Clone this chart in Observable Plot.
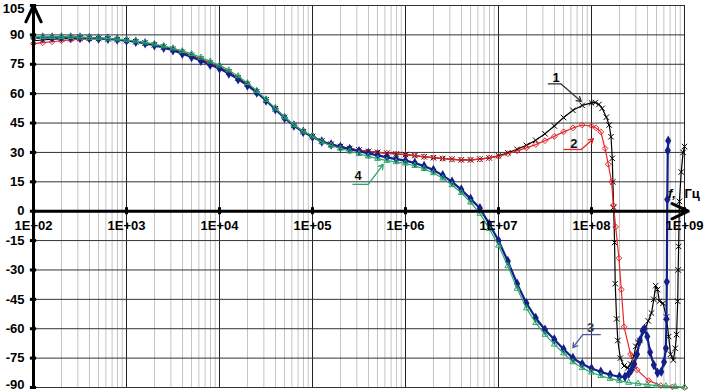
<!DOCTYPE html>
<html><head><meta charset="utf-8">
<script src="https://cdn.jsdelivr.net/npm/d3@7"></script>
<script src="https://cdn.jsdelivr.net/npm/@observablehq/plot@0.6"></script>
<style>body{margin:0;background:#fff}</style>
</head><body><div id="chart"></div>
<script>
// log10 of frequency (Hz) for the common sampling of the curves
const logF = [2.0,2.1,2.2,2.3,2.4,2.5,2.6,2.7,2.8,2.9,3.0,3.1,3.2,3.3,3.4,3.5,3.6,3.7,3.8,3.9,4.0,4.1,4.2,4.3,4.4,4.5,4.6,4.7,4.8,4.9,5.0,5.1,5.2,5.3,5.4,5.5,5.6,5.7,5.8,5.9,6.0,6.1,6.2,6.3,6.4,6.5,6.6,6.7,6.8,6.9,7.0,7.1,7.2,7.3,7.4,7.5,7.6,7.7,7.8,7.9,8.0];

// phase (degrees)
const s1 = [87,87.4,87.8,88,88.2,88.3,88.3,88.2,88,87.6,87.1,
  86.5,85.8,84.9,83.8,82.6,81.1,79.5,77.6,75.6,73.5,
  71,68,64.8,61,56.8,52.3,47.8,43.8,40.6,38.1,
  35.8,34.2,33,32,31.2,30.5,30,29.6,29.2,28.9,
  28.4,27.8,27.3,26.9,26.5,26.2,26.2,26.6,27.2,28.3,
  29.8,31.6,33.6,36.2,39.5,43.5,47.8,51.5,54,55.3];
const s1TailLog = [8.04,8.08,8.114,8.16,8.19,8.21,8.223,8.23,8.238,8.248,8.255,8.27,8.283,8.31,8.35,8.39,8.42,8.455,8.477,8.5,8.52,8.57,8.61,8.645,8.67,8.69,8.71,8.73,8.77,8.805,8.83,8.85,8.88,8.9,8.915,8.927,8.932,8.937,8.945,8.965,8.985,9.0];
const s1TailVal = [55.5,54.5,52.5,48,44,38,27,15,2,-16,-37,-55,-66,-75,-79,-80,-78,-74,-69,-67,-66,-61,-56,-52,-45,-38,-40,-46,-47,-54,-64,-73,-76,-70,-63,-46,-30,-18,5,20,30,33];

const s2 = [85.5,86,86.5,87,87.4,87.7,87.9,88,87.9,87.6,87.1,
  86.5,85.8,84.9,83.8,82.6,81.1,79.5,77.6,75.6,73.5,
  71,68,64.8,61,56.8,52.3,47.8,43.8,40.6,38.1,
  35.8,34.2,33,32,31.2,30.5,30,29.6,29.2,28.9,
  28.4,27.8,27.3,26.9,26.5,26.2,26.2,26.6,27.2,28,
  29.3,30.8,32.3,34,36,38.2,40.5,42.5,44,43.5];
const s2TailLog = [8.05,8.1,8.146,8.18,8.216,8.235,8.26,8.295,8.32,8.35,8.42,8.49,8.615,8.745,8.87,9.0];
const s2TailVal = [42.5,40.5,32,24,15,3,-8,-24,-40,-59,-73,-81,-86.5,-89,-89.7,-90];

const s3 = [88.5,88.6,88.7,88.7,88.7,88.6,88.4,88.2,88,87.6,87.1,
  86.5,85.7,84.7,83.5,82.2,80.4,78.7,76.8,74.8,72.8,
  70.3,67.4,64.2,60.6,56.5,52,47.6,43.7,40.5,38,
  35.6,34,32.8,31.7,30.6,29.5,28.5,27.5,26.6,25.8,
  24.6,23,21,18.3,15,11,6.3,1.5,-6.5,-15,
  -25.5,-37,-47,-54.5,-60.5,-65.5,-70.5,-75,-78,-80.3];
const s3TailLog = [8.1,8.2,8.3,8.36,8.4,8.43,8.46,8.49,8.52,8.55,8.57,8.6,8.63,8.67,8.71,8.75,8.78,8.8,8.806,8.81,8.815,8.82,8.825];
const s3TailVal = [-82,-83.5,-84.5,-84.5,-83,-81,-78,-73,-66,-61,-60,-64,-72,-78.5,-82.5,-82,-77,-70,-55,-36,6,31,36];

const s4 = [89,89,89,89,89,88.8,88.6,88.4,88.2,87.8,87.4,
  86.9,86.2,85.3,84.3,83.2,81.8,80.3,78.5,76.5,74.5,
  72,69,65.5,61.5,57,52.5,48,44,40.8,38.3,
  35.3,33.5,32,30.6,29.3,28,26.8,25.8,25.1,24.4,
  23.2,21.6,19.5,16.8,13.4,9.4,4.5,-1.2,-9,-17.5,
  -28,-39.5,-49.5,-57,-63,-68,-72.5,-77,-80,-82.3];
const s4TailLog = [8.1,8.2,8.3,8.4,8.5,8.6,8.7,8.8,8.9,9.0];
const s4TailVal = [-84,-85.5,-86.5,-87.5,-88,-88.5,-89,-89.3,-89.6,-89.8];

// axes
const xTicks = [1e2,1e3,1e4,1e5,1e6,1e7,1e8,1e9];
const xTickLabels = ["1E+02","1E+03","1E+04","1E+05","1E+06","1E+07","1E+08","1E+09"];
const minorMult = [2,3,4,5,6,7,8,9];
const yTicks = [-90,-75,-60,-45,-30,-15,0,15,30,45,60,75,90,105];

// annotations (log10 f, degrees)
const annoLabels = [
  {t:"1", e:7.62, v:68,   c:"#000"},
  {t:"2", e:7.81, v:34.6, c:"#111"},
  {t:"3", e:7.99, v:-59.5, c:"#3a3f55"},
  {t:"4", e:5.49, v:17.8, c:"#111"}
];
const annoUnder = [
  {e1:7.53, v1:65, e2:7.67, v2:65, c:"#333"},
  {e1:7.70, v1:31.5, e2:7.89, v2:31.5, c:"#e8262a"},
  {e1:7.906, v1:-63, e2:8.10, v2:-63, c:"#4a5a9a"},
  {e1:5.43, v1:13.7, e2:5.60, v2:13.7, c:"#2aa86a"}
];
const annoArrows = [
  {e1:7.67, v1:65, e2:7.89, v2:56, c:"#333"},
  {e1:7.89, v1:31.5, e2:8.02, v2:37, c:"#e8262a"},
  {e1:7.906, v1:-63, e2:7.80, v2:-69.7, c:"#4a5a9a"},
  {e1:5.60, v1:13.7, e2:5.76, v2:23.9, c:"#2aa86a"}
];

const mk = (body, tl, tv) => [
  ...logF.map((e, i) => ({f: 10 ** e, v: body[i]})),
  ...tl.map((e, i) => ({f: 10 ** e, v: tv[i]}))
];
const d1 = mk(s1, s1TailLog, s1TailVal);
const d2 = mk(s2, s2TailLog, s2TailVal);
const d3s = mk(s3, s3TailLog, s3TailVal);
const d4 = mk(s4, s4TailLog, s4TailVal);

const minorTicks = [];
for (const t of xTicks.slice(0, -1)) for (const m of minorMult) minorTicks.push(t * m);

const yMid = yTicks.filter(d => d !== 105 && d !== -90);
const C1 = "#000000", C2 = "#e8262a", C3 = "#14208a", C4 = "#2aa86a";
const font = {fontWeight: "bold", fontSize: 13, fill: "#000"};
const yl = {x: () => 1e2, y: d => d, text: d => String(d), dx: -9, textAnchor: "end", ...font};

const chart = Plot.plot({
  width: 704, height: 391,
  marginLeft: 33, marginRight: 20, marginTop: 5, marginBottom: 4,
  x: {type: "log", domain: [1e2, 1e9], axis: null},
  y: {domain: [-90, 105], axis: null},
  style: {background: "#fff", fontFamily: "'Liberation Sans', Arial, sans-serif", overflow: "visible"},
  marks: [
    Plot.ruleX(minorTicks, {stroke: "#c4c4c4", strokeWidth: 1}),
    Plot.ruleX(xTicks, {stroke: "#222", strokeWidth: 1}),
    Plot.ruleY(yTicks, {stroke: "#333", strokeWidth: 1}),

    Plot.line(d1, {x: "f", y: "v", stroke: C1, strokeWidth: 1.2}),
    Plot.dot(d1, {x: "f", y: "v", symbol: "times", r: 2.6, stroke: C1, strokeWidth: 1}),
    Plot.line(d2, {x: "f", y: "v", stroke: C2, strokeWidth: 1.2}),
    Plot.dot(d2, {x: "f", y: "v", symbol: "diamond2", r: 2.6, stroke: C2, strokeWidth: 1}),
    Plot.line(d3s, {x: "f", y: "v", stroke: C3, strokeWidth: 2.2}),
    Plot.dot(d3s, {x: "f", y: "v", symbol: "diamond", r: 3.2, fill: C3}),
    Plot.line(d4, {x: "f", y: "v", stroke: C4, strokeWidth: 1.2}),
    Plot.dot(d4, {x: "f", y: "v", symbol: "triangle2", r: 2.8, stroke: C4, strokeWidth: 1}),

    // axes with arrows
    Plot.arrow([{x1: 1e2, y1: -90, x2: 1e2, y2: 105}, {x1: 1e2, y1: 0, x2: 1.1e9, y2: 0}],
      {x1: "x1", y1: "y1", x2: "x2", y2: "y2", stroke: "#000", strokeWidth: 3, headLength: 9, headAngle: 50}),
    Plot.ruleX(xTicks, {y1: -1.8, y2: 1.8, stroke: "#000", strokeWidth: 3}),
    Plot.ruleY(yTicks, {x1: 1e2 / 1.08, x2: 1e2 * 1.08, stroke: "#000", strokeWidth: 3}),

    Plot.text(xTicks, {x: d => d, y: () => 0, text: (d, i) => xTickLabels[i], dy: 15, ...font}),
    Plot.text(yMid, yl),
    Plot.text([105], {...yl, lineAnchor: "top", dy: -2}),
    Plot.text([-90], {...yl, lineAnchor: "bottom", dy: 1}),
    Plot.text([{f: 10 ** 8.865, v: 9}], {x: "f", y: "v", text: () => "f,", fontStyle: "italic", ...font}),
    Plot.text([{f: 10 ** 9.0, v: 9}], {x: "f", y: "v", text: () => "Гц", textAnchor: "start", ...font}),

    // annotations
    Plot.link(annoUnder, {x1: d => 10 ** d.e1, y1: "v1", x2: d => 10 ** d.e2, y2: "v2", stroke: "c", strokeWidth: 1.3}),
    Plot.arrow(annoArrows, {x1: d => 10 ** d.e1, y1: "v1", x2: d => 10 ** d.e2, y2: "v2", stroke: "c", strokeWidth: 1.3, headLength: 6}),
    Plot.text(annoLabels, {x: d => 10 ** d.e, y: "v", text: "t", fill: "c", fontWeight: "bold", fontSize: 13})
  ]
});
document.getElementById("chart").appendChild(chart);
</script>
</body></html>
